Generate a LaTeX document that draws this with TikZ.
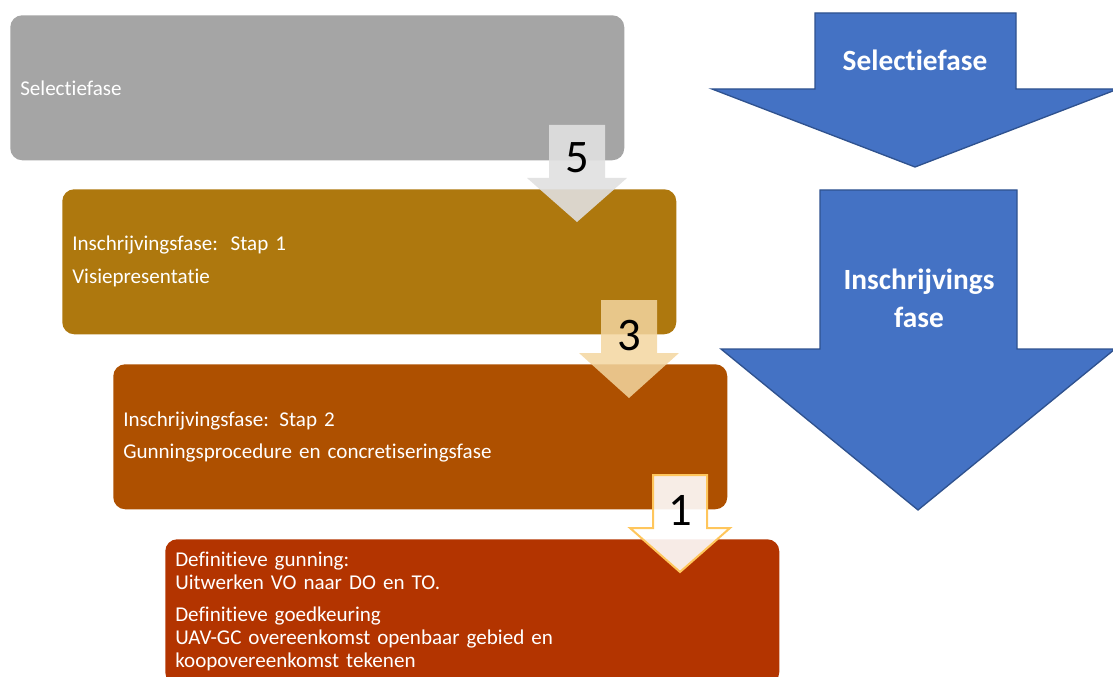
\documentclass[tikz,border=0pt]{standalone}
\usepackage{fontspec}
\setmainfont{Carlito}[Ligatures=NoCommon]
\usepackage{tikz}
\usetikzlibrary{positioning}
\definecolor{grey}{HTML}{A5A5A5}
\definecolor{gold}{HTML}{AE780E}
\definecolor{rust}{HTML}{AE5000}
\definecolor{brick}{HTML}{B33400}
\definecolor{phaseblue}{HTML}{4472C4}
\definecolor{phasenavy}{HTML}{2F528F}
\definecolor{lightgrey}{HTML}{E0E0E0}
\definecolor{peach}{HTML}{F3D6A0}
\definecolor{amber}{HTML}{FFC65C}

\begin{document}
\begin{tikzpicture}[x=0.75pt,y=-0.75pt,
    phase/.style={rectangle,rounded corners=9pt,anchor=north west,minimum width=460.5pt,minimum height=108.75pt,
      text width=445.5pt,inner xsep=7.5pt,inner ysep=0pt,align=left,text=white,font=\fontsize{15.8}{17.25}\selectfont},
    num/.style={font=\fontsize{35}{40}\selectfont},
    bigarrow/.style={fill=phaseblue,draw=phasenavy,line width=1pt},
    biglabel/.style={text=white,align=center,font=\bfseries\fontsize{22}{28.5}\selectfont}]
    \clip (0,0) rectangle (1113,677);
    % phase boxes
    \node[phase,fill=grey] (selectie) at (10,15) {Selectiefase};
    \node[phase,fill=gold] (stap1) at (62,189) {Inschrijvingsfase:\hspace{1.7pt} Stap 1\\[7.5pt]Visiepresentatie};
    \node[phase,fill=rust] (stap2) at (113,364) {Inschrijvingsfase: Stap 2\\[7pt]Gunningsprocedure en concretiseringsfase};
    \node[phase,fill=brick] (gunning) at (165,539) {Definitieve gunning:\\Uitwerken VO naar DO en TO.\\[6.75pt]Definitieve goedkeuring\\UAV-GC overeenkomst openbaar gebied en\\koopovereenkomst tekenen};
    % step arrows
    \fill[lightgrey,opacity=0.9] (549,125) -- (605,125) -- (605,178) -- (627,178) -- (577,222) -- (527,178) -- (549,178) -- cycle;
    \node[num] (num5) at (577,158) {5};
    \fill[peach,opacity=0.85] (601,300) -- (657,300) -- (657,353) -- (679,353) -- (629,398) -- (579,353) -- (601,353) -- cycle;
    \node[num] (num3) at (629,336) {3};
    \filldraw[fill=white,fill opacity=0.9,draw=amber,line width=1.5pt,line join=miter] (653,475) -- (707,475) -- (707,528) -- (730,528) -- (680,572) -- (630,528) -- (653,528) -- cycle;
    \node[num] (num1) at (680,510) {1};
    % phase arrows
    \draw[bigarrow] (815,13) -- (1016,13) -- (1016,89) -- (1118,89) -- (915,167) -- (712,89) -- (815,89) -- cycle;
    \node[biglabel] (selfase) at (915,60) {Selectiefase};
    \draw[bigarrow] (820,190) -- (1017,190) -- (1017,349) -- (1115,349) -- (918,510) -- (721,349) -- (820,349) -- cycle;
    \node[biglabel] (inschrfase) at (919,298) {Inschrijvings\\fase};
\end{tikzpicture}
\end{document}
